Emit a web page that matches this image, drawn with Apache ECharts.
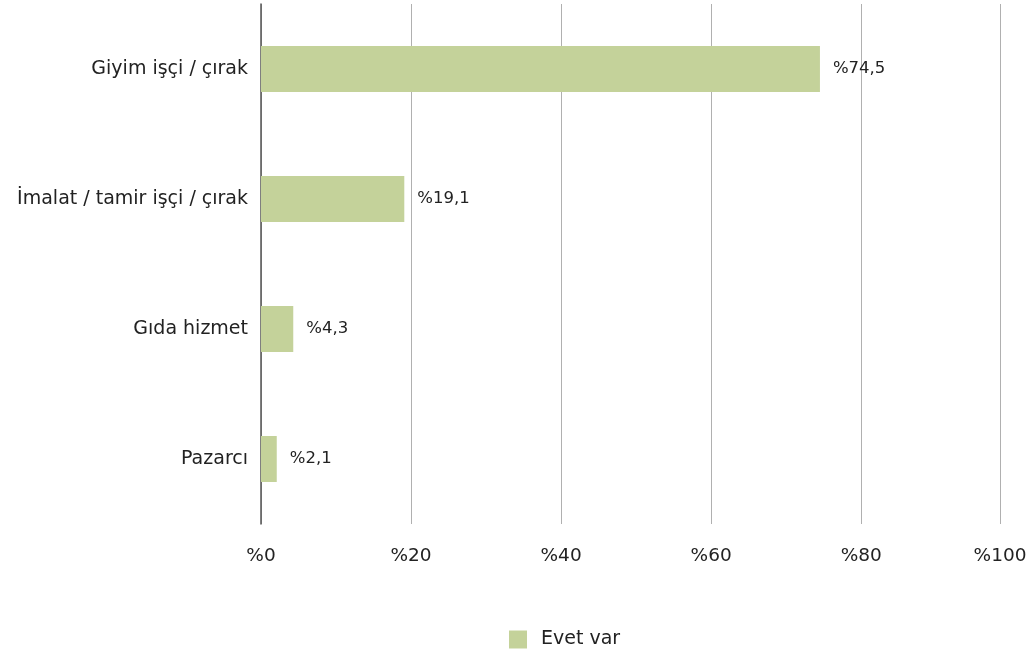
<!DOCTYPE html>
<html>
<head>
<meta charset="utf-8">
<script src="https://cdn.jsdelivr.net/npm/echarts@6/dist/echarts.min.js"></script>
<style>html,body{margin:0;padding:0;background:#fff}#c{width:1034px;height:654px}</style>
</head>
<body>
<div id="c"></div>
<script>
const categories = ['Giyim işçi / çırak', 'İmalat / tamir işçi / çırak', 'Gıda hizmet', 'Pazarcı'];
const values = [74.5, 19.1, 4.3, 2.1];
const valueLabels = ['%74,5', '%19,1', '%4,3', '%2,1'];
const tickLabels = ['%0', '%20', '%40', '%60', '%80', '%100'];
const seriesName = 'Evet var';

const FONT = 'DejaVu Sans';
const chart = echarts.init(document.getElementById('c'), null, {renderer: 'canvas'});
chart.setOption({
  animation: false,
  textStyle: {fontFamily: FONT},
  grid: {left: 261, right: 34, top: 4, bottom: 130, containLabel: false},
  legend: {
    top: 630, left: 509,
    itemWidth: 18, itemHeight: 18, itemGap: 10,
    icon: 'rect',
    padding: 0,
    textStyle: {fontFamily: FONT, fontSize: 19, color: '#222', padding: [0, 0, 0, 9]},
    data: [seriesName]
  },
  xAxis: {
    type: 'value', min: 0, max: 98.5, interval: 20,
    axisLine: {show: false}, axisTick: {show: false},
    splitLine: {show: true, lineStyle: {color: '#b0b0b0', width: 1}},
    axisLabel: {
      margin: 23, fontSize: 18.5, color: '#222', fontFamily: FONT,
      showMaxLabel: true,
      formatter: (v, i) => tickLabels[i]
    }
  },
  yAxis: {
    type: 'category', data: categories, inverse: true,
    axisLine: {show: true, lineStyle: {color: '#555', width: 1.5}},
    axisTick: {show: false},
    axisLabel: {margin: 13, fontSize: 19, color: '#222', fontFamily: FONT}
  },
  series: [{
    name: seriesName, type: 'bar', data: values, barWidth: 46,
    itemStyle: {color: '#c4d29a'},
    label: {
      show: true, position: 'right', distance: 13,
      fontSize: 16.5, color: '#222', fontFamily: FONT,
      formatter: p => valueLabels[p.dataIndex]
    }
  }]
});
</script>
</body>
</html>
